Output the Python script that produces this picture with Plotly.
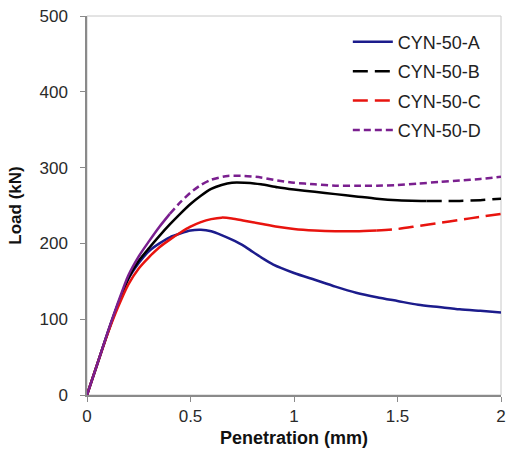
import plotly.graph_objects as go

# Load-penetration curves for the four CYN-50 specimens
pen_a = [0, 0.05, 0.1, 0.15, 0.2, 0.25, 0.3, 0.35, 0.4, 0.45, 0.5, 0.55, 0.6, 0.65, 0.7,
         0.75, 0.8, 0.85, 0.9, 1.0, 1.1, 1.2, 1.3, 1.4, 1.5, 1.6, 1.7, 1.8, 1.9, 2.0]
load_a = [0, 41, 82, 120, 153, 174, 190, 200, 208, 213, 217, 218, 216, 211, 205,
          198, 189, 180, 172, 161, 152, 143, 135, 129, 124, 119, 116, 113, 111, 109]

pen_b = [0, 0.05, 0.1, 0.15, 0.2, 0.25, 0.3, 0.35, 0.4, 0.45, 0.5, 0.55, 0.6, 0.65, 0.7,
         0.76, 0.84, 0.92, 1.0, 1.1, 1.2, 1.3, 1.4, 1.5, 1.64, 1.8, 1.9, 2.0]
load_b = [0, 41, 82, 120, 154, 177, 194, 210, 225, 239, 252, 263, 272, 277, 280,
          280, 278, 274, 271, 268, 265, 262, 259, 257, 256, 256, 257, 259]

pen_c = [0, 0.05, 0.1, 0.15, 0.2, 0.25, 0.3, 0.35, 0.4, 0.45, 0.5, 0.55, 0.6, 0.65, 0.7,
         0.76, 0.84, 0.92, 1.0, 1.1, 1.2, 1.3, 1.4, 1.5, 1.6, 1.7, 1.8, 1.9, 2.0]
load_c = [0, 41, 81, 116, 146, 167, 182, 195, 205, 214, 222, 228, 232, 234, 233,
          230, 226, 222, 219, 217, 216, 216, 217, 219, 223, 227, 231, 235, 239]

pen_d = [0, 0.05, 0.1, 0.15, 0.2, 0.25, 0.3, 0.35, 0.4, 0.45, 0.5, 0.55, 0.6, 0.68,
         0.76, 0.84, 0.92, 1.0, 1.1, 1.2, 1.3, 1.4, 1.5, 1.6, 1.7, 1.8, 1.9, 2.0]
load_d = [0, 41, 83, 122, 158, 183, 203, 222, 239, 254, 267, 277, 284, 289,
          289, 287, 283, 280, 278, 276, 276, 276, 277, 279, 281, 283, 285, 288]

names = ["CYN-50-A", "CYN-50-B", "CYN-50-C", "CYN-50-D"]
x_ticks = [0, 0.5, 1, 1.5, 2]
y_ticks = [0, 100, 200, 300, 400, 500]

# (name, x, y, colour, dash, penetration up to which the trace is densely sampled)
series = [
    (names[0], pen_a, load_a, "#1c1c8c", "solid", None),
    (names[1], pen_b, load_b, "#000000", "15px,7px", 1.64),
    (names[2], pen_c, load_c, "#e8140f", "15px,7px", 1.4),
    (names[3], pen_d, load_d, "#7a1f8f", "7px,4px", 0.4),
]

fig = go.Figure()
for name, xs, ys, color, dash, dense_end in series:
    n_solid = len(xs) if dense_end is None else xs.index(dense_end) + 1
    # densely sampled part renders as a continuous stroke
    fig.add_trace(go.Scatter(
        x=xs[:n_solid], y=ys[:n_solid], mode="lines", name=name,
        legendgroup=name, showlegend=(dense_end is None),
        line=dict(color=color, width=2.5, shape="spline", smoothing=0.7),
    ))
    if dense_end is not None:
        fig.add_trace(go.Scatter(
            x=xs[n_solid - 1:], y=ys[n_solid - 1:], mode="lines", name=name,
            legendgroup=name, showlegend=True,
            line=dict(color=color, width=2.5, dash=dash, shape="spline", smoothing=0.7),
        ))

font_family = "Liberation Sans, Arial, sans-serif"
fig.update_layout(
    width=513, height=462,
    margin=dict(l=87, r=7, t=16, b=67),
    paper_bgcolor="white", plot_bgcolor="white",
    font=dict(family=font_family, size=17, color="#2a2a2a"),
    showlegend=True,
    legend=dict(
        x=0.63, y=0.98, xanchor="left", yanchor="top",
        bgcolor="rgba(0,0,0,0)", font=dict(size=18, color="#222222"),
        traceorder="grouped", tracegroupgap=3, itemwidth=40,
    ),
    xaxis=dict(
        range=[0, 2], tickvals=x_ticks, ticktext=[str(v) for v in x_ticks],
        showgrid=False, zeroline=False, showline=True, linecolor="#8a8a8a", linewidth=1.5,
        ticks="outside", ticklen=5, tickcolor="#8a8a8a", tickfont=dict(size=17),
        title=dict(text="<b>Penetration (mm)</b>", font=dict(size=18, color="#111111"), standoff=6),
    ),
    yaxis=dict(
        range=[0, 500], tickvals=y_ticks, ticklabelstandoff=9,
        showgrid=False, zeroline=False, showline=True, linecolor="#8a8a8a", linewidth=1.5,
        ticks="outside", ticklen=5, tickcolor="#8a8a8a", tickfont=dict(size=17),
        title=dict(text="<b>Load (kN)</b>", font=dict(size=17, color="#111111"), standoff=14),
    ),
    shapes=[dict(type="rect", xref="x domain", yref="y domain", x0=0, x1=1, y0=0, y1=1,
                 line=dict(color="#c8c8c8", width=1), layer="below")],
)

fig.write_html("out.html")
